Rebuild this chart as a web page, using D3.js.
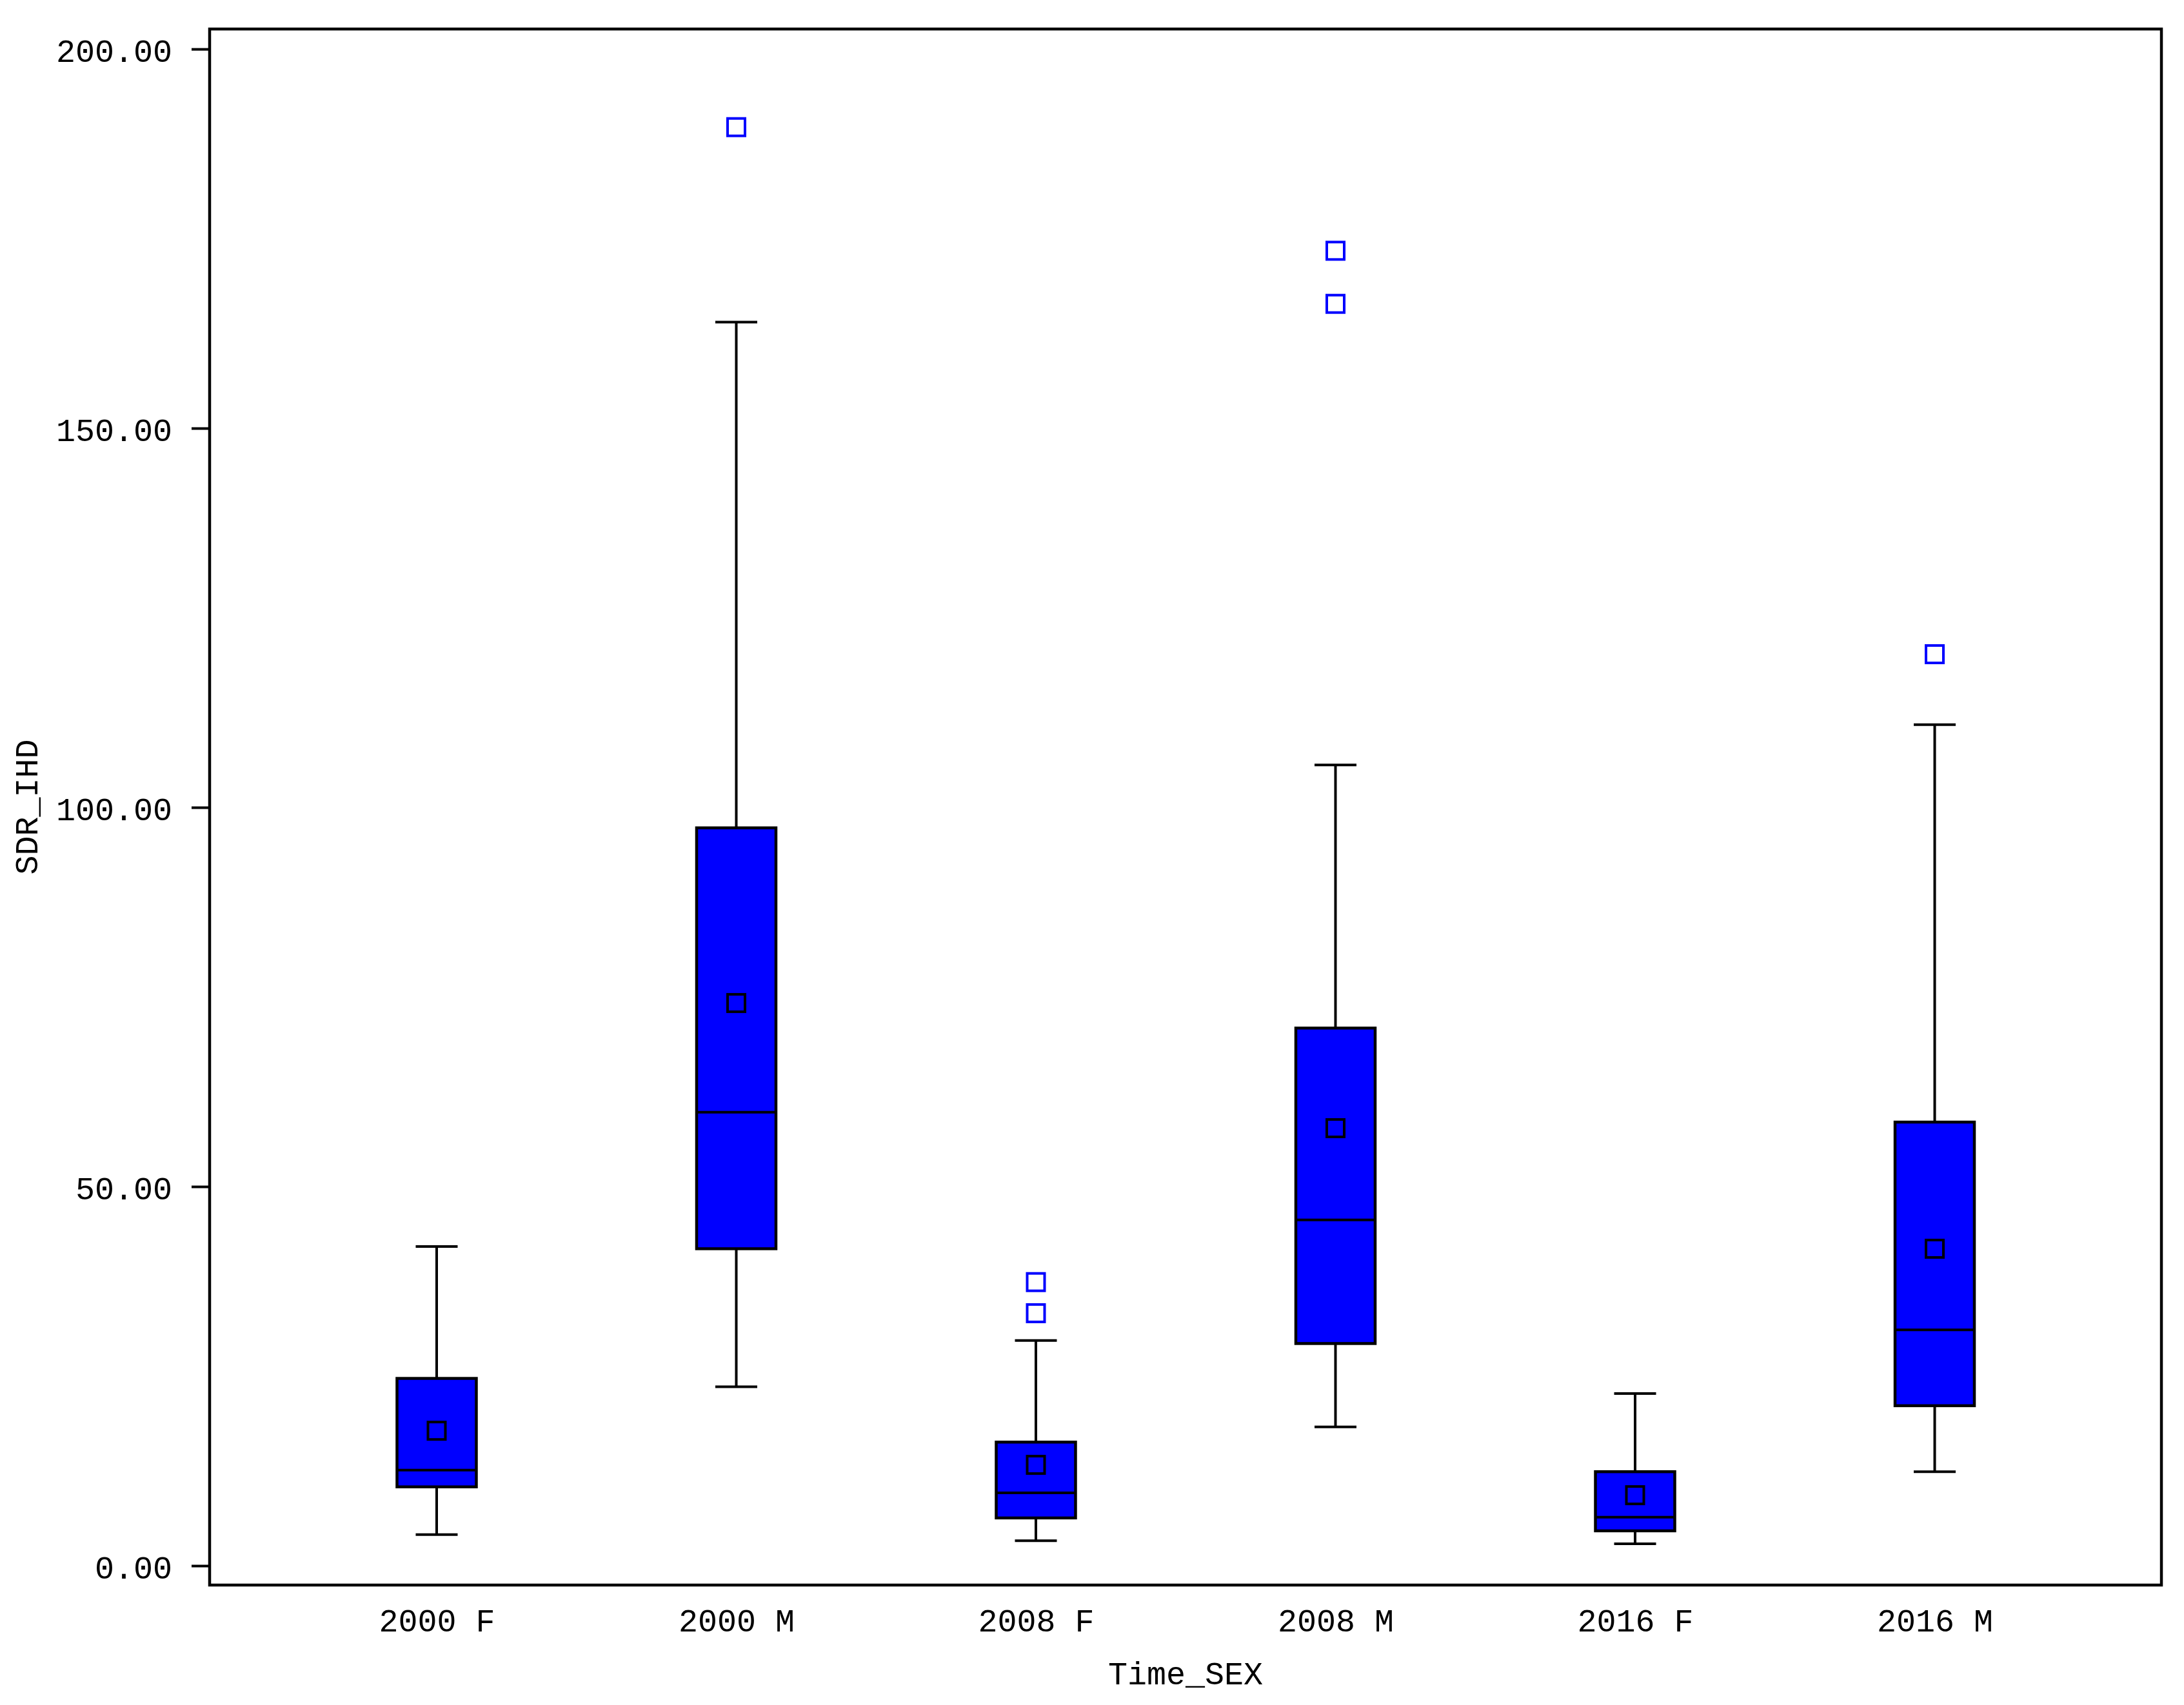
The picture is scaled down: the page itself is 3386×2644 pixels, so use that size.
<!DOCTYPE html>
<html>
<head>
<meta charset="utf-8">
<script src="https://cdn.jsdelivr.net/npm/d3@7"></script>
<style>
  body { margin: 0; background: #fff; }
  text { font-family: "Liberation Mono", "DejaVu Sans Mono", monospace; fill: #000; }
</style>
</head>
<body>
<div id="chart"></div>
<script>
// --- data ---
const categories = ["2000 F", "2000 M", "2008 F", "2008 M", "2016 F", "2016 M"];
const whiskerLow = [4.1, 23.6, 3.3, 18.3, 2.9, 12.4];
const q1Values = [10.4, 41.8, 6.3, 29.3, 4.6, 21.1];
const medians = [12.6, 59.8, 9.6, 45.6, 6.4, 31.1];
const q3Values = [24.7, 97.3, 16.3, 70.9, 12.4, 58.5];
const whiskerHigh = [42.1, 164.0, 29.7, 105.6, 22.7, 110.9];
const means = [17.8, 74.2, 13.3, 57.7, 9.3, 41.8];
const outliers = [[], [189.7], [37.4, 33.3], [173.4, 166.4], [], [120.2]];
const yTicks = [0, 50, 100, 150, 200];

const W = 3386, H = 2644;
const margin = { top: 45, right: 35, bottom: 186, left: 325 };
const innerW = W - margin.left - margin.right;
const innerH = H - margin.top - margin.bottom;
const fontSize = "50px";

const boxes = categories.map((c, i) => ({
  cat: c,
  low: whiskerLow[i], q1: q1Values[i], med: medians[i],
  q3: q3Values[i], high: whiskerHigh[i], mean: means[i],
  out: outliers[i]
}));

const svg = d3.select("#chart").append("svg")
  .attr("width", W)
  .attr("height", H);

const g = svg.append("g")
  .attr("transform", `translate(${margin.left},${margin.top})`);

const x = d3.scalePoint()
  .domain(categories)
  .range([352, 352 + 5 * 464.5]);

const y = d3.scaleLinear()
  .domain([-2.55, 202.64])
  .range([innerH, 0]);

// y axis
const gy = g.append("g")
  .call(d3.axisLeft(y).tickValues(yTicks).tickFormat(d3.format(".2f")).tickSize(28).tickPadding(30));
gy.select(".domain").remove();
gy.selectAll(".tick line").attr("stroke", "#000").attr("stroke-width", 4);
gy.selectAll(".tick text").attr("dy", "0.38em").style("font-size", fontSize).attr("fill", "#000");

// x axis (labels only)
const gx = g.append("g")
  .attr("transform", `translate(0,${innerH})`)
  .call(d3.axisBottom(x).tickSize(0).tickPadding(0));
gx.select(".domain").remove();
gx.selectAll(".tick text").attr("y", 72).attr("dy", 0).style("font-size", fontSize).attr("fill", "#000");

// axis titles
svg.append("text")
  .attr("x", margin.left + innerW / 2)
  .attr("y", 2612)
  .attr("text-anchor", "middle")
  .style("font-size", fontSize)
  .text("Time_SEX");

svg.append("text")
  .attr("transform", `translate(58,${margin.top + innerH / 2}) rotate(-90)`)
  .attr("text-anchor", "middle")
  .style("font-size", fontSize)
  .text("SDR_IHD");

// boxes
const boxW = 123, capW = 65, mk = 27;
const grp = g.selectAll(".box").data(boxes).join("g").attr("class", "box")
  .attr("transform", d => `translate(${x(d.cat)},0)`);

// whiskers
grp.append("line").attr("x1", 0).attr("x2", 0)
  .attr("y1", d => y(d.high)).attr("y2", d => y(d.q3))
  .attr("stroke", "#000").attr("stroke-width", 4);
grp.append("line").attr("x1", 0).attr("x2", 0)
  .attr("y1", d => y(d.q1)).attr("y2", d => y(d.low))
  .attr("stroke", "#000").attr("stroke-width", 4);
grp.append("line").attr("x1", -capW / 2).attr("x2", capW / 2)
  .attr("y1", d => y(d.high)).attr("y2", d => y(d.high))
  .attr("stroke", "#000").attr("stroke-width", 4);
grp.append("line").attr("x1", -capW / 2).attr("x2", capW / 2)
  .attr("y1", d => y(d.low)).attr("y2", d => y(d.low))
  .attr("stroke", "#000").attr("stroke-width", 4);

grp.append("rect")
  .attr("x", -boxW / 2).attr("width", boxW)
  .attr("y", d => y(d.q3)).attr("height", d => y(d.q1) - y(d.q3))
  .attr("fill", "#0000ff").attr("stroke", "#000").attr("stroke-width", 4.5);

grp.append("line").attr("x1", -boxW / 2).attr("x2", boxW / 2)
  .attr("y1", d => y(d.med)).attr("y2", d => y(d.med))
  .attr("stroke", "#000").attr("stroke-width", 4);

// mean marker
grp.append("rect")
  .attr("x", -mk / 2).attr("width", mk)
  .attr("y", d => y(d.mean) - mk / 2).attr("height", mk)
  .attr("fill", "none").attr("stroke", "#000").attr("stroke-width", 4);

// outliers
grp.selectAll(".out").data(d => d.out).join("rect").attr("class", "out")
  .attr("x", -mk / 2).attr("width", mk)
  .attr("y", v => y(v) - mk / 2).attr("height", mk)
  .attr("fill", "#fff").attr("stroke", "#0000ff").attr("stroke-width", 4);

// frame
g.append("rect")
  .attr("x", 0).attr("y", 0)
  .attr("width", innerW).attr("height", innerH)
  .attr("fill", "none").attr("stroke", "#000").attr("stroke-width", 4.5);
</script>
</body>
</html>
